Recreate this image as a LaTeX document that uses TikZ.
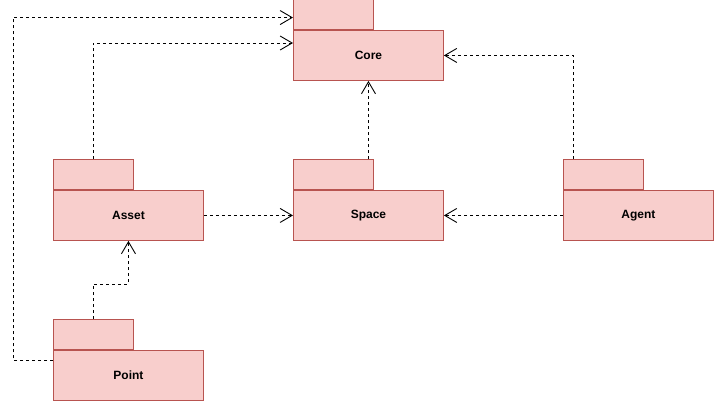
\documentclass[tikz,border=0pt]{standalone}
\usepackage{fontspec}
\setmainfont{Liberation Sans}
\usetikzlibrary{arrows.meta,positioning}
\definecolor{pkgfill}{RGB}{248,206,204}
\definecolor{pkgline}{RGB}{184,84,80}

\begin{document}
\begin{tikzpicture}
[x=1pt,y=-1pt,font=\bfseries\fontsize{12}{14}\selectfont,
pkg/.style={rectangle,fill=pkgfill,draw=pkgline,line width=0.9pt,minimum width=150pt,minimum height=50pt,inner sep=0pt},
pkgtab/.style={rectangle,fill=pkgfill,draw=pkgline,line width=0.9pt,minimum width=80pt,minimum height=30pt,inner sep=0pt},
dep/.style={-{Straight Barb[length=12pt,width=14pt]},dash pattern=on 3pt off 3pt,line width=0.9pt,black}]
\useasboundingbox (0,0) rectangle (714,401);
%%%%% PACKAGES
\foreach \n/\x/\y/\t in {core/293/30/Core,asset/53/190/Asset,space/293/190/Space,agent/563/190/Agent,point/53/350/Point}
{
	\node[pkg,anchor=north west] (\n) at (\x,\y) {\t};
	\node[pkgtab,anchor=south west] (\n Tab) at (\n.north west) {};
};
%%%%% DEPENDENCIES
\draw[dep] ([yshift=15pt]point.west) -- ++(-40pt,0) |- ([yshift=-3pt]coreTab.west);
\draw[dep] (assetTab.north) |- ([yshift=-13pt]core.north west);
\draw[dep] (space.north |- spaceTab.north) -- (core.south);
\draw[dep] ([xshift=10pt]agentTab.north west) |- (core.east);
\draw[dep] (asset.east) -- (space.west);
\draw[dep] (agent.west) -- (space.east);
\draw[dep] (pointTab.north) -- ++(0,35pt) -| (asset.south);
\end{tikzpicture}
\end{document}
